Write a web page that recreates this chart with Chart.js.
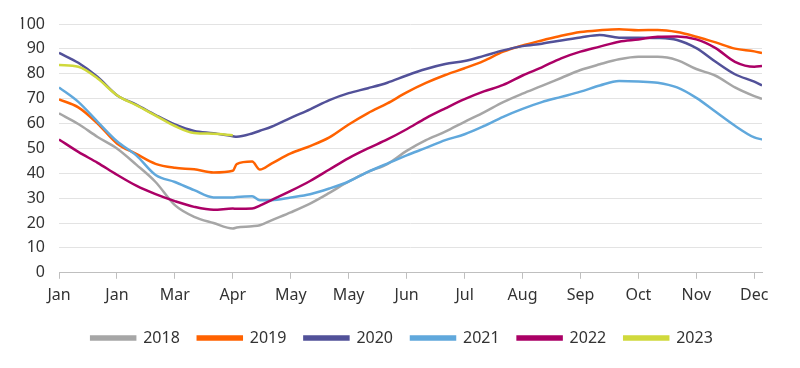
<!DOCTYPE html>
<html>
<head>
<meta charset="utf-8">
<script src="https://cdn.jsdelivr.net/npm/chart.js@4"></script>
<style>
  html, body { margin: 0; padding: 0; background: #fff; }
  #wrap { width: 800px; height: 368px; }
</style>
</head>
<body>
<div id="wrap"><canvas id="storage-chart"></canvas></div>
<script>
// day of year for each reading
const days = [0, 10, 20, 30, 40, 50, 60, 70, 80, 90, 92, 100, 104, 110, 120, 130, 140, 150, 160, 170,
  180, 190, 200, 210, 220, 230, 240, 250, 260, 270, 280, 290, 300, 310, 320, 330, 340, 350, 360, 364]

const tickDays = [0, 30, 60, 90, 120, 150, 180, 210, 240, 270, 300, 330, 360]
const tickLabels = ["Jan", "Jan", "Mar", "Apr", "May", "May", "Jun", "Jul", "Aug", "Sep", "Oct", "Nov", "Dec"]

const years = ["2018", "2019", "2020", "2021", "2022", "2023"]
const colors = ["#a6a6a6", "#ff6200", "#525199", "#60a8dc", "#ab0066", "#d0d93c"]

const y2018 = [64.1, 59.8, 54.6, 50.0, 43.5, 36.5, 27.2, 22.5, 20.0, 17.8, 18.2, 18.7, 19.1, 21.1, 24.3, 27.8, 32.1, 36.7, 40.6, 43.7,
  49.0, 53.3, 56.7, 60.7, 64.5, 68.6, 72.0, 75.1, 78.3, 81.5, 83.8, 85.8, 86.8, 86.8, 85.5, 81.9, 79.2, 74.5, 71.0, 69.9]
const y2019 = [69.7, 66.5, 60.0, 52.0, 47.8, 43.8, 42.2, 41.6, 40.3, 41.0, 43.7, 44.7, 41.5, 43.9, 48.0, 50.9, 54.4, 59.6, 64.2, 68.1,
  72.5, 76.3, 79.5, 82.2, 85.2, 88.9, 91.4, 93.4, 95.3, 96.8, 97.5, 97.9, 97.5, 97.6, 96.8, 94.9, 92.6, 90.1, 89.0, 88.3]
const y2020 = [88.4, 84.4, 78.7, 71.4, 67.6, 63.4, 59.6, 57.0, 56.1, 54.9, 54.7, 56.0, 57.1, 58.7, 62.3, 65.7, 69.4, 72.2, 74.2, 76.4,
  79.3, 81.9, 83.9, 85.1, 87.2, 89.4, 91.1, 92.1, 93.4, 94.6, 95.6, 94.5, 94.5, 94.4, 93.6, 90.3, 84.8, 79.8, 76.8, 75.3]
const y2021 = [74.5, 68.7, 60.7, 52.9, 47.2, 39.3, 36.5, 33.2, 30.3, 30.3, 30.5, 30.8, 29.2, 29.2, 30.3, 31.6, 33.9, 36.7, 40.6, 43.9,
  47.2, 50.2, 53.3, 55.7, 59.0, 62.7, 65.9, 68.6, 70.7, 72.8, 75.3, 77.1, 76.9, 76.4, 74.5, 70.3, 64.7, 59.1, 54.4, 53.6]
const y2022 = [53.6, 48.6, 44.2, 39.4, 35.0, 31.6, 28.8, 26.5, 25.3, 25.8, 25.7, 25.8, 27.0, 29.2, 32.9, 36.9, 41.5, 46.1, 50.0, 53.6,
  57.7, 62.2, 66.1, 69.8, 72.9, 75.5, 79.3, 82.6, 86.2, 88.9, 90.9, 92.9, 93.8, 94.9, 95.0, 93.8, 90.3, 84.8, 82.8, 83.1]
const y2023 = [83.5, 82.8, 78.1, 71.4, 67.4, 63.2, 59.0, 56.2, 55.9, 55.3]

const series = [y2018, y2019, y2020, y2021, y2022, y2023]

const font = { family: "'Noto Sans', sans-serif", size: 16 }

new Chart(document.getElementById("storage-chart"), {
  type: "line",
  data: {
    datasets: series.map((values, i) => ({
      label: years[i],
      data: values.map((v, j) => ({ x: days[j], y: v })),
      borderColor: colors[i],
      backgroundColor: colors[i],
      borderWidth: 2.5,
      pointRadius: 0,
      cubicInterpolationMode: "monotone",
      order: series.length - i
    }))
  },
  options: {
    responsive: true,
    maintainAspectRatio: false,
    animation: false,
    layout: { padding: { top: 24, left: 21, right: 17, bottom: 12 } },
    scales: {
      x: {
        type: "linear",
        min: 0,
        max: 364,
        afterBuildTicks: (axis) => { axis.ticks = tickDays.map((v) => ({ value: v })) },
        ticks: {
          callback: (value, index) => tickLabels[index],
          autoSkip: false,
          maxRotation: 0,
          padding: 7,
          color: "#333",
          font
        },
        grid: { drawOnChartArea: false, tickLength: 6, color: "#bfbfbf" },
        border: { color: "#bfbfbf" }
      },
      y: {
        min: 0,
        max: 100,
        afterFit: (axis) => { axis.width = 38 },
        ticks: { stepSize: 10, padding: 14, color: "#333", font },
        grid: { drawTicks: false, color: "#e3e3e3" },
        border: { display: false }
      },
      // empty right-hand space so the legend stays centred on the page
      spacer: {
        type: "linear",
        position: "right",
        afterFit: (axis) => { axis.width = 21 },
        ticks: { display: false },
        grid: { display: false },
        border: { display: false }
      }
    },
    plugins: {
      legend: {
        position: "bottom",
        labels: {
          boxWidth: 44,
          boxHeight: 3,
          padding: 18,
          color: "#333",
          font,
          sort: (a, b) => a.datasetIndex - b.datasetIndex
        }
      },
      tooltip: { enabled: false }
    }
  }
})
</script>
</body>
</html>
